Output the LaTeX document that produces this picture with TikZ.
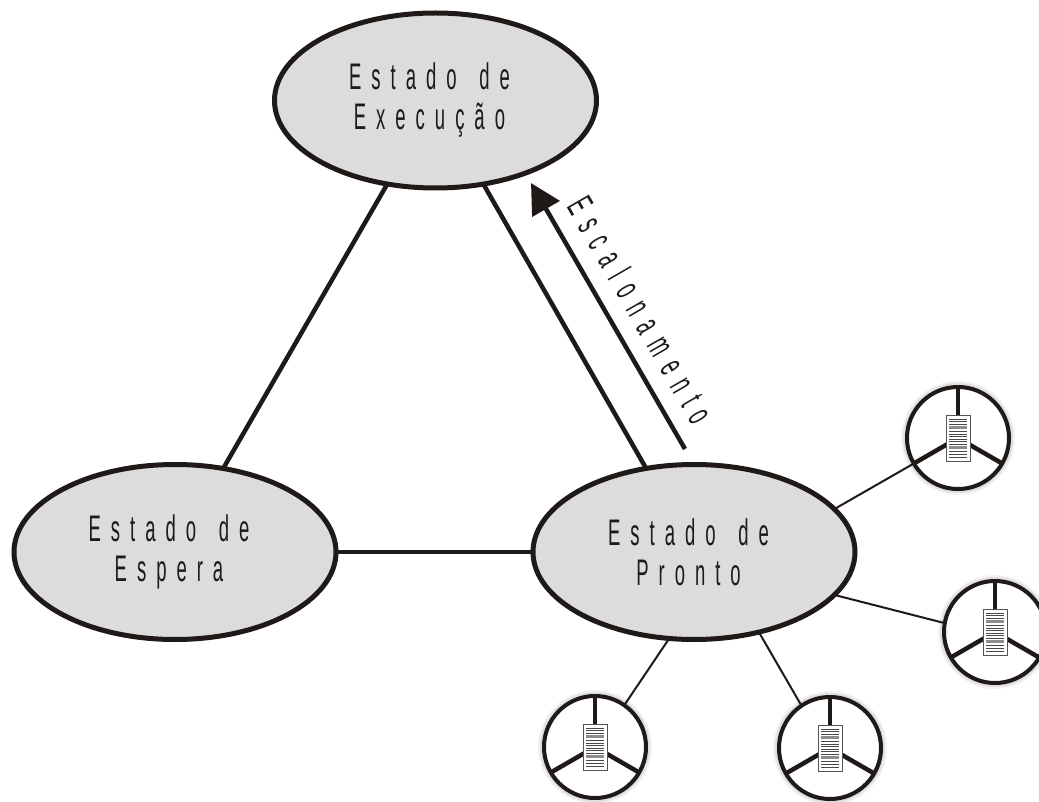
\documentclass[tikz,border=0pt]{standalone}
\usepackage{fontspec}
\setmainfont{Liberation Sans}
\newfontfamily\lbl[FakeStretch=0.5,LetterSpace=27,WordSpace=1.5]{Liberation Sans}
\newfontfamily\lblwide[FakeStretch=0.5,LetterSpace=28.5]{Liberation Sans}
\usetikzlibrary{shapes.geometric,arrows.meta}
\definecolor{ink}{HTML}{1F1A17}
\definecolor{fillgray}{HTML}{DCDCDC}
\tikzset{
  state/.style={ellipse,draw=ink,fill=fillgray,line width=5pt,minimum width=322pt,minimum height=175pt,inner sep=0pt,outer sep=0pt},
  statetext/.style={align=center,inner sep=0pt,font=\lbl\fontsize{37}{40}\selectfont,text=ink},
  link/.style={draw=ink,line width=4.5pt},
  thin link/.style={draw=ink,line width=2pt},
  tok/.style={circle,draw=ink,line width=4pt,fill=white,minimum size=102pt,inner sep=0pt,outer sep=0pt},
  docbox/.style={rectangle,draw=ink!75,line width=1pt,fill=white,minimum width=24pt,minimum height=46pt,inner sep=0pt,outer sep=0pt},
  spoke/.style={draw=ink,line width=4.5pt},
  bar/.style={draw=ink!80,line width=.9pt},
  fatbar/.style={draw=ink!50,line width=2.4pt},
}
\newcommand{\tokenat}[3]{% #1 name, #2 doc name, #3 position
  \foreach \r/\o in {57/.05,55/.08,53/.12}{\fill[black,opacity=\o] #3 circle (\r pt);}
  \node[tok] (#1) at #3 {};
  \draw[spoke] #3 -- (#1.90);
  \draw[spoke] #3 -- (#1.210);
  \draw[spoke] #3 -- (#1.330);
  \node[docbox] (#2) at #3 {};
  \begin{scope}[shift={#3}]
    \foreach \y in {-19,-16.5,-14,-7,-4,-1.5,1,3.5,6,13,16,19}{\draw[bar] (-9,\y) -- (9,\y);}
    \foreach \y in {-10.5,9.5}{\draw[fatbar] (-9,\y) -- (9,\y);}
  \end{scope}
}
\begin{document}
\begin{tikzpicture}[x=1pt,y=-1pt]
\useasboundingbox (0,0) rectangle (1039,802);
\coordinate (ctop) at (435.5,100.5);
\coordinate (cleft) at (175,552);
\coordinate (cright) at (694,552);
\draw[link] (ctop) -- (cleft);
\draw[link] (ctop) -- (cright);
\draw[link] (cleft) -- (cright);
\node[state] (exec) at (ctop) {};
\node[state] (wait) at (cleft) {};
\node[state] (ready) at (cright) {};
\node[statetext] (exectext) at (429.5,100.5) {Estado de\\Execução};
\node[statetext] (waittext) at (169,552) {Estado de\\Espera};
\node[statetext] (readytext) at (688.5,552) {Estado de\\Pronto};
\tokenat{t1}{d1}{(958,438)}
\tokenat{t2}{d2}{(995,632)}
\tokenat{t3}{d3}{(830,748)}
\tokenat{t4}{d4}{(595,747)}
\draw[thin link] (ready.17.5) -- (t1.210);
\draw[thin link] (ready.-17) -- (t2.170);
\draw[thin link] (ready.-51) -- (t3.124);
\draw[thin link] (ready.-106) -- (t4.55);
\coordinate (arrowstart) at (685,449);
\coordinate (arrowend) at (531,183);
\draw[link,-{Triangle[length=30pt,width=31pt]}] (arrowstart) -- (arrowend);
\node[rotate=-60,font=\lblwide\fontsize{37}{37}\selectfont,text=ink] (lab) at (641,310) {Escalonamento};
\end{tikzpicture}
\end{document}
